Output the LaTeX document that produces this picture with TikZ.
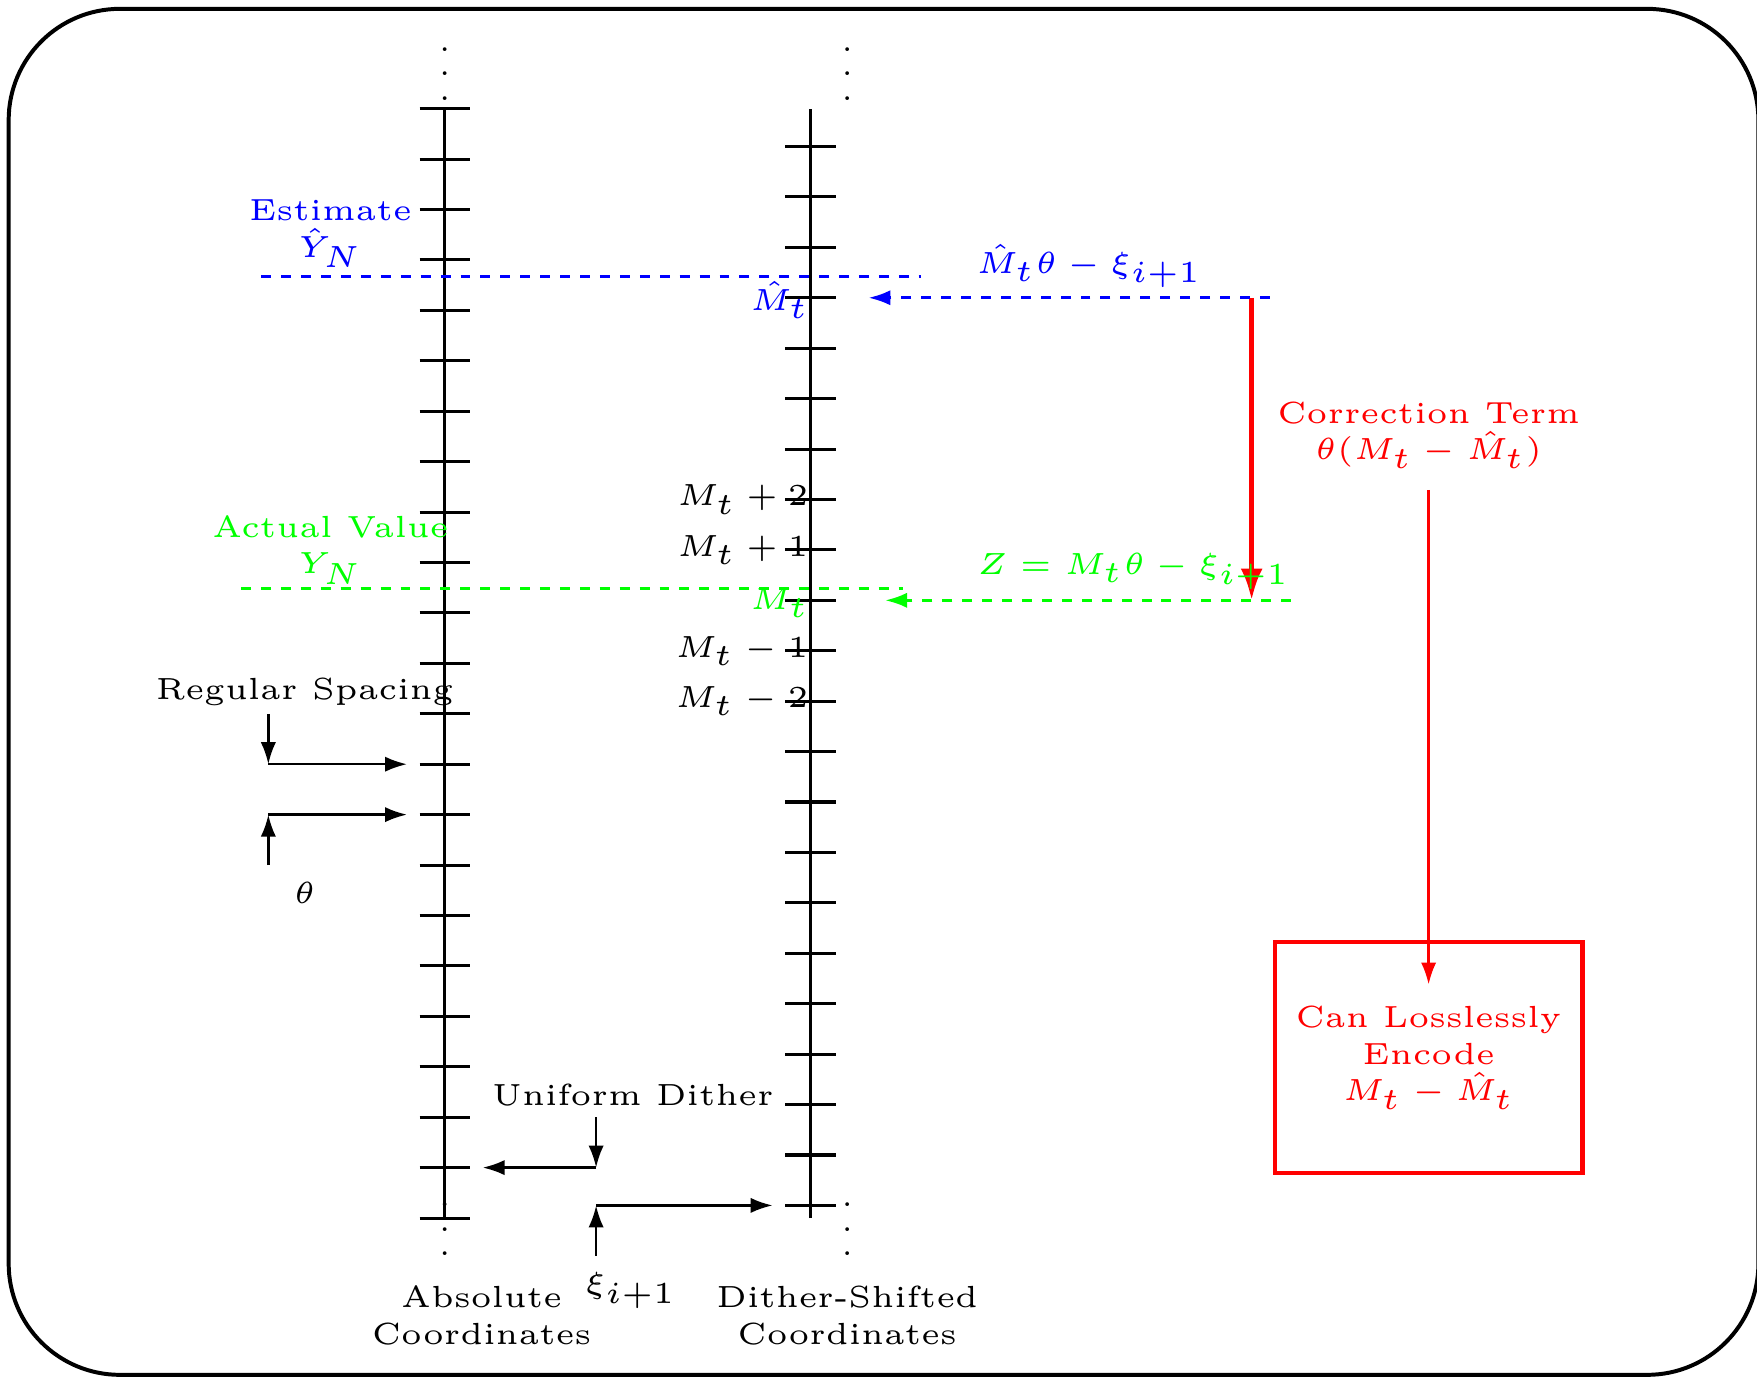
\documentclass[tikz,border=0pt]{standalone}
\usepackage{xcolor}
\usepackage{tikz}
\usetikzlibrary{arrows.meta}

\begin{document}
\begin{tikzpicture}[
  x=0.29cm, y=0.29cm,
  every node/.style={font=\tiny},
  lbl/.style={align=center},
  axisline/.style={line width=0.5pt},
  guide/.style={line width=0.5pt, dash pattern=on 1.63pt off 1.63pt},
  arr/.style={line width=0.4pt, -{Latex[length=3.6pt, width=2.5pt]}},
  bigarr/.style={red, line width=0.8pt, -{Latex[length=5.2pt, width=3.6pt]}},
  encframe/.style={draw=red, line width=0.7pt, minimum width=1.77cm, minimum height=1.33cm},
]
  \useasboundingbox (-8.822,-3.133) rectangle (26.022,24.156);
  \clip (-8.822,-3.133) rectangle (26.022,24.156);
  \draw[line width=0.65pt, rounded corners=0.64cm] (-8.65,-3.11) rectangle (26.05,23.98);

  \draw[axisline] (0,0) -- (0,22);
  \foreach \k in {0,...,22} \draw[axisline] (-0.5,\k) -- (0.5,\k);
  \draw[axisline] (7.25,0) -- (7.25,22);
  \foreach \k in {0,...,21} \draw[axisline] (6.75,\k+0.25) -- (7.75,\k+0.25);

  \node (absTop) at (0,23.05) {$\vdots$};
  \node (absBot) at (0,0.14) {$\vdots$};
  \node (dsTop) at (7.98,23.05) {$\vdots$};
  \node (dsBot) at (7.98,0.14) {$\vdots$};
  \node[lbl] (absLbl) at (0.73,-1.93) {Absolute\\Coordinates};
  \node[lbl] (dsLbl) at (7.98,-1.93) {Dither-Shifted\\Coordinates};

  \node[left] (mp2) at (7.64,14.25) {$M_t+2$};
  \node[left] (mp1) at (7.64,13.25) {$M_t+1$};
  \node[left, text=green] (mt) at (7.66,12.2) {$M_t$};
  \node[left] (mm1) at (7.64,11.25) {$M_t-1$};
  \node[left] (mm2) at (7.64,10.25) {$M_t-2$};
  \node[left, text=blue] (mhat) at (7.66,18.2) {$\hat{M}_t$};

  \node[lbl, text=blue] (est) at (-2.27,19.52) {Estimate\\$\hat{Y}_N$};
  \node[lbl, text=green] (act) at (-2.27,13.25) {Actual Value\\$Y_N$};

  \coordinate (estL) at (-3.64,18.67);
  \coordinate (estR) at (9.44,18.67);
  \coordinate (actL) at (-4.04,12.49);
  \coordinate (actR) at (9.09,12.49);
  \draw[guide, blue] (estL) -- (estR);
  \draw[guide, green] (actL) -- (actR);

  \coordinate (corrA) at (16,18.25);
  \coordinate (corrB) at (16,12.25);
  \draw[bigarr] (corrA) -- (corrB);

  \coordinate (qhatR) at (16.36,18.25);
  \coordinate (qhatL) at (8.4,18.25);
  \coordinate (zR) at (16.78,12.25);
  \coordinate (zL) at (8.73,12.25);
  \draw[guide, blue, -{Latex[length=3.6pt, width=2.5pt]}] (qhatR) -- (qhatL);
  \draw[guide, green, -{Latex[length=3.6pt, width=2.5pt]}] (zR) -- (zL);
  \node[text=blue] (qhatLbl) at (12.78,18.88) {$\hat{M}_t\theta-\xi_{i+1}$};
  \node[text=green] (zLbl) at (13.66,12.83) {$Z=M_t\theta-\xi_{i+1}$};

  \node[lbl, text=red] (corr) at (19.51,15.53) {Correction Term\\$\theta(M_t-\hat{M}_t)$};
  \node[lbl, text=red] (enc) at (19.51,3.18) {Can Losslessly\\Encode\\$M_t-\hat{M}_t$};
  \node[encframe] (encbox) at (enc) {};
  \draw[arr, red] (corr) -- (enc);

  \node (regLbl) at (-2.78,10.44) {Regular Spacing};
  \node (theta) at (-2.78,6.44) {$\theta$};
  \coordinate (regA) at (-3.5,10);
  \coordinate (regB) at (-3.5,9);
  \coordinate (regC) at (-0.75,9);
  \coordinate (thA) at (-3.5,7);
  \coordinate (thB) at (-3.5,8);
  \coordinate (thC) at (-0.75,8);
  \draw[arr] (regA) -- (regB);
  \draw[arr] (regB) -- (regC);
  \draw[arr] (thA) -- (thB);
  \draw[arr] (thB) -- (thC);

  \node (udLbl) at (3.73,2.44) {Uniform Dither};
  \node (xiLbl) at (3.69,-1.44) {$\xi_{i+1}$};
  \coordinate (udA) at (3,2);
  \coordinate (udB) at (3,1);
  \coordinate (udC) at (0.75,1);
  \coordinate (xiA) at (3,-0.75);
  \coordinate (xiB) at (3,0.25);
  \coordinate (xiC) at (6.5,0.25);
  \draw[arr] (udA) -- (udB);
  \draw[arr] (udB) -- (udC);
  \draw[arr] (xiA) -- (xiB);
  \draw[arr] (xiB) -- (xiC);
\end{tikzpicture}
\end{document}
